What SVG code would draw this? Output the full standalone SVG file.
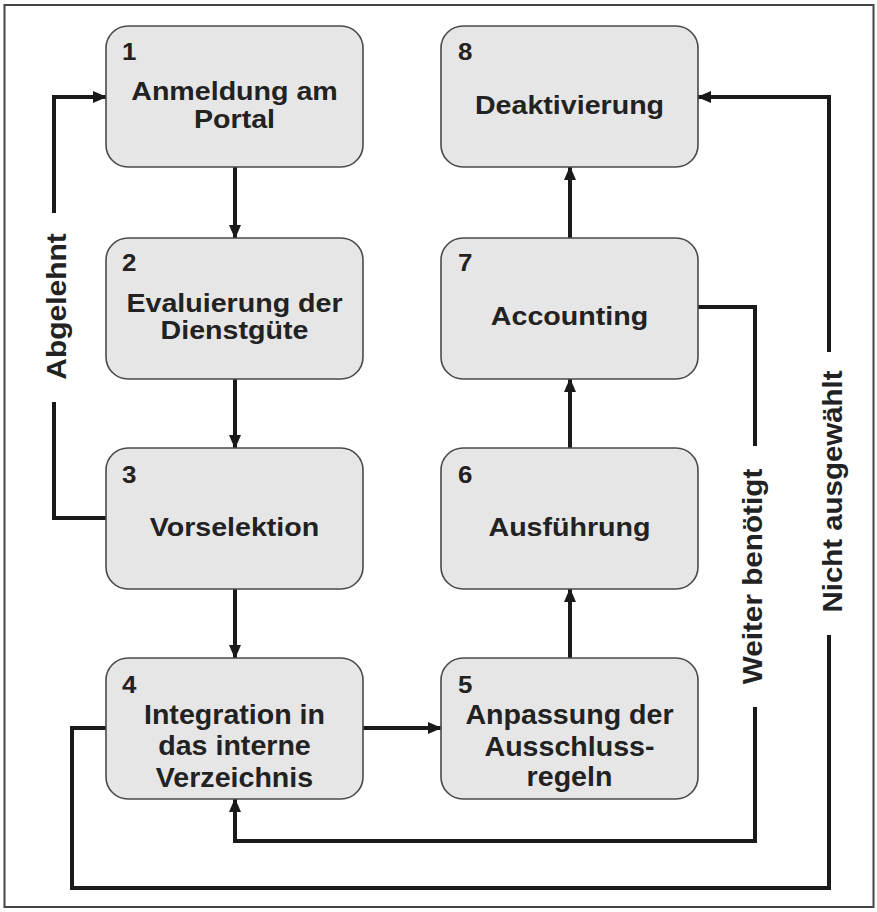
<svg xmlns="http://www.w3.org/2000/svg" width="877" height="912" viewBox="0 0 877 912">
<style>
.box{fill:#e6e6e6;stroke:#4a4a4a;stroke-width:1.6}
.t{font-family:"Liberation Sans",Arial,sans-serif;font-weight:bold;fill:#222;font-size:26px;text-anchor:middle}
.tn{font-family:"Liberation Sans",Arial,sans-serif;font-weight:bold;fill:#222;font-size:27.5px;text-anchor:middle}
.num{font-family:"Liberation Sans",Arial,sans-serif;font-weight:bold;fill:#222;font-size:24px}
.lbl{font-family:"Liberation Sans",Arial,sans-serif;font-weight:bold;fill:#222;font-size:27px;text-anchor:middle}
.c{fill:none;stroke:#1a1a1a;stroke-width:4;stroke-linejoin:miter}
</style>
<defs>
<marker id="ah" markerWidth="14" markerHeight="12" refX="13" refY="6" orient="auto" markerUnits="userSpaceOnUse">
<path d="M0,0 L14,6 L0,12 z" fill="#1a1a1a"/>
</marker>
</defs>
<rect x="0" y="0" width="877" height="912" fill="#fff"/>
<rect x="4.5" y="5" width="869" height="902" fill="#fff" stroke="#444" stroke-width="2"/>

<g id="connectors">
<path class="c" d="M235,167 V238" marker-end="url(#ah)"/>
<path class="c" d="M235,379 V448" marker-end="url(#ah)"/>
<path class="c" d="M235,589 V658" marker-end="url(#ah)"/>
<path class="c" d="M363,728 H441" marker-end="url(#ah)"/>
<path class="c" d="M570,658 V589" marker-end="url(#ah)"/>
<path class="c" d="M570,448 V379" marker-end="url(#ah)"/>
<path class="c" d="M570,238 V167" marker-end="url(#ah)"/>
<path class="c" d="M106,518 H54 V402"/>
<path class="c" d="M54,213 V97 H106" marker-end="url(#ah)"/>
<path class="c" d="M698,307 H755 V446"/>
<path class="c" d="M755,707 V841 H235 V799" marker-end="url(#ah)"/>
<path class="c" d="M106,728 H72 V888 H829 V635"/>
<path class="c" d="M829,352 V97 H698" marker-end="url(#ah)"/>
<text class="lbl" transform="translate(66,306.5) rotate(-90) scale(1.11,1)">Abgelehnt</text>
<text class="lbl" transform="translate(762,576.5) rotate(-90) scale(1.1,1)">Weiter benötigt</text>
<text class="lbl" transform="translate(842,491.5) rotate(-90) scale(1.09,1)">Nicht ausgewählt</text>
</g>

<g id="node1">
<rect class="box" x="106" y="26" width="257" height="141" rx="22"/>
<text class="num" transform="translate(122,60) scale(1.08,1)">1</text>
<text class="t" transform="translate(234.5,100) scale(1.1,1)">Anmeldung am</text>
<text class="t" transform="translate(234.5,128) scale(1.1,1)">Portal</text>
</g>
<g id="node2">
<rect class="box" x="106" y="238" width="257" height="141" rx="22"/>
<text class="num" transform="translate(122,271) scale(1.08,1)">2</text>
<text class="t" transform="translate(234.5,312) scale(1.1,1)">Evaluierung der</text>
<text class="t" transform="translate(234.5,339) scale(1.1,1)">Dienstgüte</text>
</g>
<g id="node3">
<rect class="box" x="106" y="448" width="257" height="141" rx="22"/>
<text class="num" transform="translate(122,483) scale(1.08,1)">3</text>
<text class="t" transform="translate(234.5,536) scale(1.1,1)">Vorselektion</text>
</g>
<g id="node4">
<rect class="box" x="106" y="658" width="257" height="141" rx="22"/>
<text class="num" transform="translate(122,693) scale(1.08,1)">4</text>
<text class="tn" transform="translate(234.5,724) scale(1.04,1)">Integration in</text>
<text class="tn" transform="translate(234.5,755) scale(1.04,1)">das interne</text>
<text class="tn" transform="translate(234.5,787) scale(1.04,1)">Verzeichnis</text>
</g>
<g id="node5">
<rect class="box" x="441" y="658" width="257" height="141" rx="22"/>
<text class="num" transform="translate(458,693) scale(1.08,1)">5</text>
<text class="tn" transform="translate(569.5,724) scale(1.04,1)">Anpassung der</text>
<text class="tn" transform="translate(569.5,756) scale(1.04,1)">Ausschluss-</text>
<text class="tn" transform="translate(569.5,786) scale(1.04,1)">regeln</text>
</g>
<g id="node6">
<rect class="box" x="441" y="448" width="257" height="141" rx="22"/>
<text class="num" transform="translate(458,483) scale(1.08,1)">6</text>
<text class="t" transform="translate(569.5,536) scale(1.1,1)">Ausführung</text>
</g>
<g id="node7">
<rect class="box" x="441" y="238" width="257" height="141" rx="22"/>
<text class="num" transform="translate(458,271) scale(1.08,1)">7</text>
<text class="t" transform="translate(569.5,325) scale(1.1,1)">Accounting</text>
</g>
<g id="node8">
<rect class="box" x="441" y="26" width="257" height="141" rx="22"/>
<text class="num" transform="translate(458,60) scale(1.08,1)">8</text>
<text class="t" transform="translate(569.5,114) scale(1.1,1)">Deaktivierung</text>
</g>
</svg>
